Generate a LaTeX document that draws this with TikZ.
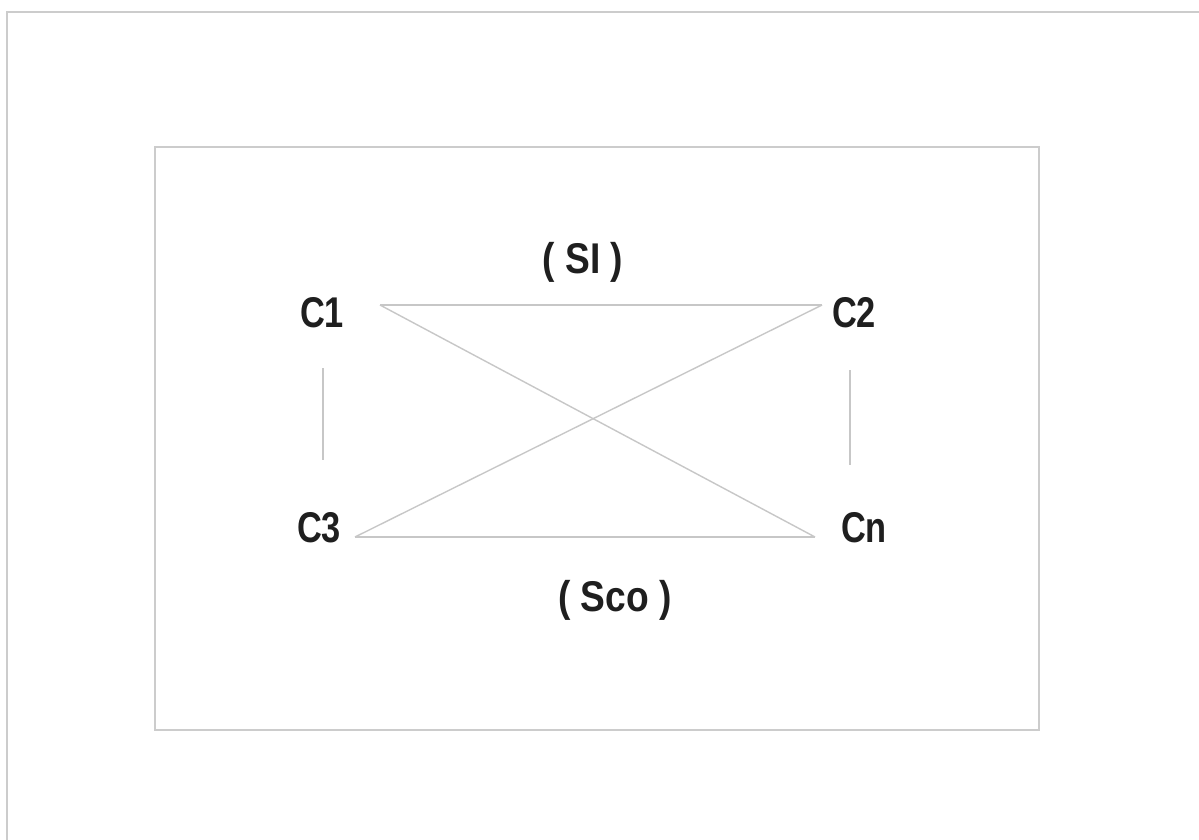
\documentclass[tikz,border=0pt]{standalone}
\usepackage{fontspec}
\setmainfont{Liberation Sans}
\begin{document}
\begin{tikzpicture}[x=0.5pt,y=-0.5pt,
  lbl/.style={font=\fontsize{21.5}{24}\selectfont\bfseries, text=black!88, inner sep=0pt, xscale=0.8, transform shape},
  paren/.style={lbl, xscale=1.08},
  link/.style={draw=black!22, line width=0.7pt},
  frame/.style={draw=black!20, line width=0.9pt}]
\useasboundingbox (0,0) rectangle (1199,840);
\fill[white] (0,0) rectangle (1199,840);
% outer frame (page edge)
\draw[frame, line width=1.1pt] (1199,12) -- (7,12) -- (7,840);
% inner rectangle
\draw[frame] (155,147) rectangle (1039,730);
% labels
\node[lbl] (c1) at (322,313) {C1};
\node[lbl] (c2) at (854,313) {C2};
\node[lbl] (c3) at (319,528) {C3};
\node[lbl] (cn) at (864,528) {Cn};
\node[paren] (si) at (583,262) {( SI )};
\node[paren] (sco) at (615,600) {( Sco )};
% line end points
\coordinate (a1) at (380,305);
\coordinate (a2) at (822,305);
\coordinate (a3) at (355,537);
\coordinate (an) at (815,537);
\coordinate (v1t) at (323,368);
\coordinate (v1b) at (323,460);
\coordinate (v2t) at (850,370);
\coordinate (v2b) at (850,465);
% connectors
\draw[link] (a1) -- (a2);
\draw[link] (a3) -- (an);
\draw[link] (a1) -- (an);
\draw[link] (a2) -- (a3);
\draw[link] (v1t) -- (v1b);
\draw[link] (v2t) -- (v2b);
\end{tikzpicture}
\end{document}
